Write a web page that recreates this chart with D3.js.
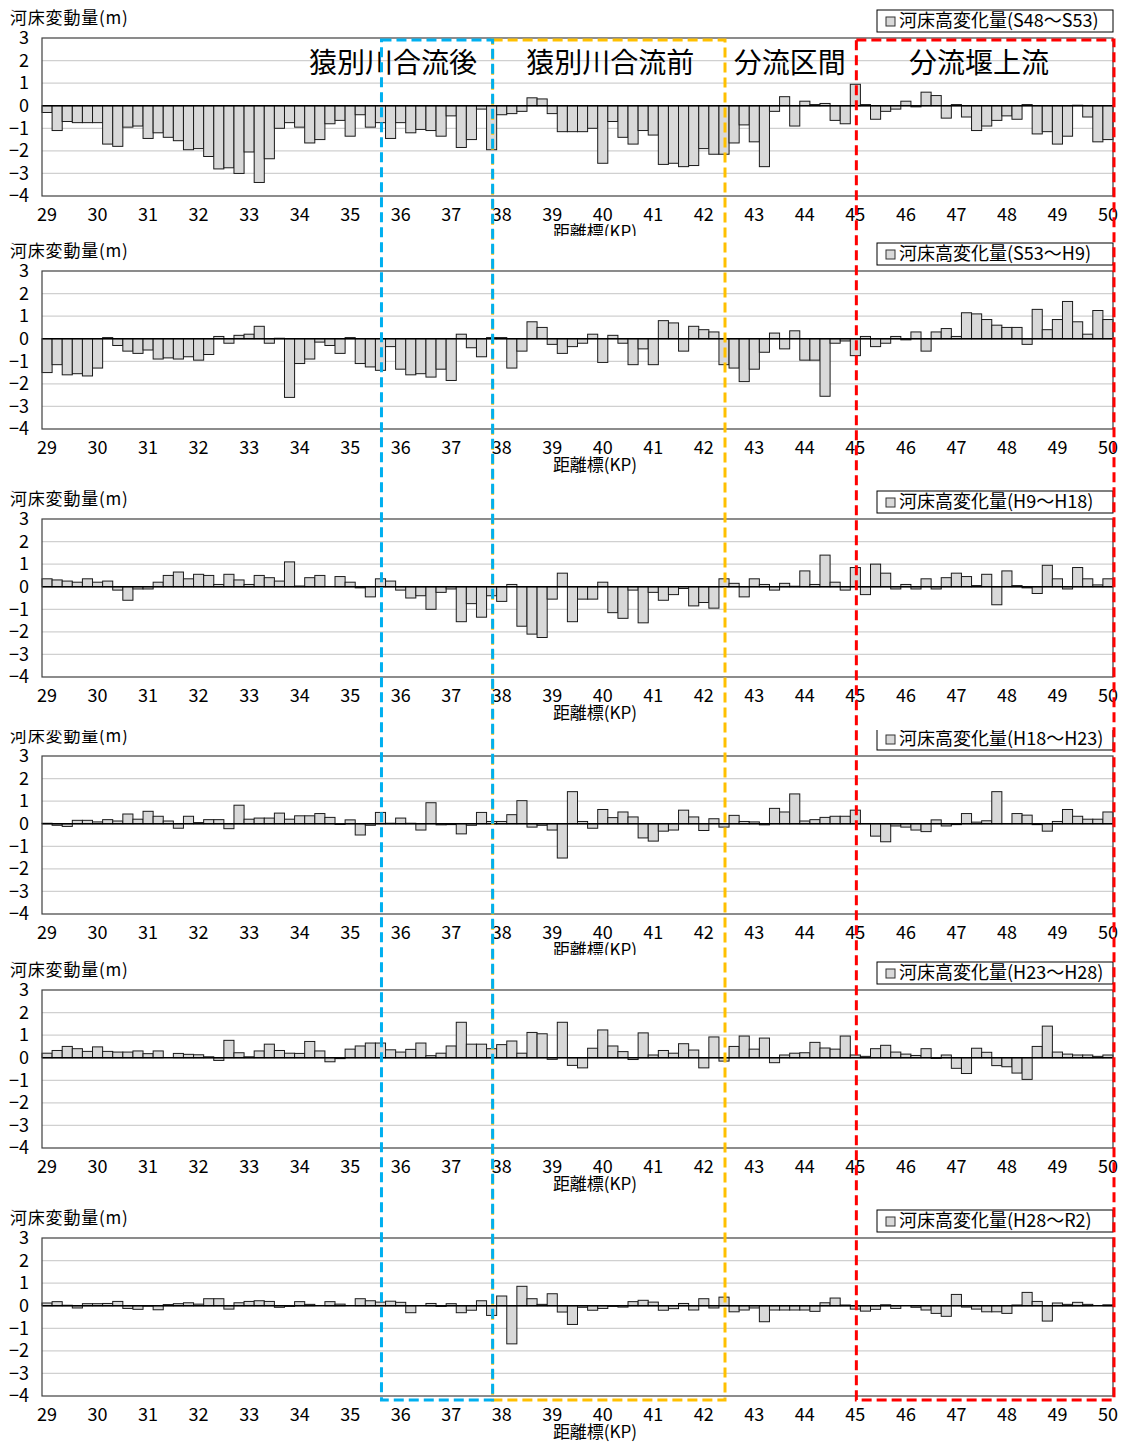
<!DOCTYPE html>
<html>
<head>
<meta charset="utf-8">
<script src="https://cdn.jsdelivr.net/npm/d3@7"></script>
<style>
body { margin: 0; background: #fff; }
text { font-family: "Noto Sans CJK JP", sans-serif; fill: #000; }
.tick text { font-family: "Liberation Sans Narrow", "Noto Sans CJK JP", sans-serif; font-size: 18px; }
</style>
</head>
<body>
<script>
// KP categories, 0.2 km pitch from 29.0 to 50.0
var kp = d3.range(0, 106).map(function(i) { return +(29 + i * 0.2).toFixed(1); });
var kpTicks = [29,30,31,32,33,34,35,36,37,38,39,40,41,42,43,44,45,46,47,48,49,50];
var tickLabels = ["29","30","31","32","33","34","35","36","37","38","39","40","41","42","43","44","45","46","47","48","49","50"];
var yTicks = [3,2,1,0,-1,-2,-3,-4];

var periods = ["S48～S53", "S53～H9", "H9～H18", "H18～H23", "H23～H28", "H28～R2"];

var s48_s53 = [-0.3,-1.1,-0.7,-0.75,-0.75,-0.75,-1.7,-1.8,-0.95,-0.9,
 -1.45,-1.2,-1.4,-1.55,-1.95,-1.9,-2.25,-2.8,-2.75,-3.0,
 -2.05,-3.4,-2.35,-1.0,-0.75,-0.95,-1.65,-1.5,-0.8,-0.65,
 -1.35,-0.4,-0.95,-0.75,-1.45,-0.75,-1.2,-1.05,-1.1,-1.35,
 -0.45,-1.85,-1.5,-0.15,-1.95,-0.4,-0.35,-0.25,0.35,0.3,
 -0.35,-1.15,-1.15,-1.15,-1.0,-2.55,-0.7,-1.4,-1.7,-1.1,
 -1.3,-2.6,-2.55,-2.7,-2.65,-1.9,-2.15,-2.15,-1.65,-0.85,
 -1.6,-2.7,-0.25,0.4,-0.9,0.2,0.05,0.1,-0.65,-0.8,
 0.95,0.05,-0.6,-0.25,-0.15,0.2,-0.05,0.6,0.45,-0.55,
 0.05,-0.5,-1.1,-0.9,-0.65,-0.45,-0.6,0.05,-1.25,-1.15,
 -1.7,-1.35,0.02,-0.5,-1.6,-1.5];

var s53_h9 = [-1.5,-1.15,-1.6,-1.55,-1.65,-1.3,0.05,-0.3,-0.55,-0.65,
 -0.5,-0.9,-0.85,-0.9,-0.8,-0.95,-0.7,0.1,-0.2,0.15,
 0.2,0.55,-0.2,0.02,-2.6,-1.1,-0.9,-0.15,-0.3,-0.65,
 0.05,-1.1,-1.25,-1.4,-0.35,-1.35,-1.6,-1.55,-1.7,-1.35,
 -1.85,0.2,-0.4,-0.8,0.05,0.05,-1.3,-0.55,0.75,0.5,
 -0.25,-0.65,-0.35,-0.2,0.2,-1.05,0.15,-0.2,-1.15,-0.45,
 -1.15,0.8,0.7,-0.55,0.55,0.4,0.3,-1.15,-1.3,-1.9,
 -1.35,-0.6,0.25,-0.45,0.35,-0.95,-0.95,-2.55,-0.2,-0.1,
 -0.75,0.1,-0.35,-0.2,0.1,-0.05,0.3,-0.55,0.3,0.45,
 0.1,1.15,1.1,0.85,0.6,0.5,0.5,-0.25,1.3,0.4,
 0.85,1.65,0.75,0.2,1.25,0.85];

var h9_h18 = [0.35,0.3,0.25,0.2,0.35,0.2,0.25,-0.15,-0.6,-0.1,
 -0.1,0.2,0.5,0.65,0.35,0.55,0.5,0.1,0.55,0.3,
 0.1,0.5,0.4,0.25,1.1,0.03,0.4,0.5,0.0,0.45,
 0.2,-0.05,-0.45,0.35,0.25,-0.15,-0.5,-0.4,-1.0,-0.25,
 -0.1,-1.55,-0.75,-1.35,-0.4,-0.65,0.1,-1.75,-2.1,-2.25,
 -0.55,0.6,-1.55,-0.55,-0.55,0.2,-1.15,-1.4,-0.15,-1.6,
 -0.25,-0.6,-0.35,-0.08,-0.85,-0.7,-0.95,0.35,0.15,-0.45,
 0.35,0.1,-0.15,0.15,0.02,0.7,0.1,1.4,0.2,-0.15,
 0.85,-0.35,1.0,0.6,-0.1,0.1,-0.1,0.35,-0.1,0.4,
 0.6,0.45,0.05,0.55,-0.8,0.7,0.05,-0.05,-0.3,0.95,
 0.35,-0.1,0.85,0.35,0.08,0.35];

var h18_h23 = [0.02,-0.07,-0.12,0.15,0.15,0.08,0.18,0.12,0.43,0.2,
 0.55,0.33,0.12,-0.2,0.33,0.05,0.18,0.18,-0.22,0.82,
 0.2,0.25,0.25,0.47,0.2,0.35,0.35,0.45,0.28,-0.03,
 0.17,-0.5,-0.07,0.5,0.02,0.25,0.02,-0.28,0.93,-0.05,
 -0.04,-0.45,-0.07,0.5,0.1,0.1,0.4,1.02,-0.15,-0.07,
 -0.28,-1.52,1.42,0.1,-0.2,0.63,0.27,0.52,0.3,-0.63,
 -0.77,-0.33,-0.28,0.6,0.3,-0.3,0.22,-0.15,0.37,0.1,
 0.08,-0.05,0.68,0.52,1.32,0.12,0.18,0.28,0.33,0.33,
 0.6,0.01,-0.55,-0.8,-0.1,-0.15,-0.28,-0.35,0.17,-0.1,
 -0.04,0.45,0.07,0.13,1.42,0.01,0.45,0.38,-0.04,-0.33,
 0.1,0.63,0.33,0.2,0.2,0.52];

var h23_h28 = [0.2,0.32,0.5,0.4,0.28,0.48,0.28,0.25,0.25,0.3,
 0.18,0.3,0.0,0.19,0.15,0.13,0.04,-0.12,0.77,0.22,
 0.04,0.3,0.6,0.32,0.2,0.19,0.72,0.3,-0.18,-0.04,
 0.38,0.52,0.65,0.65,0.35,0.25,0.37,0.65,0.09,0.2,
 0.52,1.57,0.6,0.6,0.4,0.58,0.74,0.2,1.12,1.06,
 -0.07,1.57,-0.34,-0.45,0.42,1.23,0.52,0.27,-0.08,1.1,
 0.12,0.32,0.2,0.62,0.34,-0.45,0.92,-0.15,0.5,0.96,
 0.38,0.87,-0.22,0.12,0.2,0.22,0.68,0.43,0.38,0.96,
 0.12,0.06,0.4,0.55,0.25,0.16,0.1,0.4,-0.03,0.12,
 -0.47,-0.7,0.42,0.24,-0.35,-0.4,-0.68,-0.96,0.5,1.4,
 0.25,0.16,0.12,0.12,0.06,0.12];

var h28_r2 = [0.12,0.18,0.02,-0.1,0.09,0.09,0.1,0.19,-0.12,-0.16,
 -0.02,-0.18,0.05,0.09,0.13,0.07,0.31,0.31,-0.15,0.13,
 0.19,0.22,0.19,-0.07,-0.03,0.18,0.06,0.0,0.18,0.07,
 0.0,0.31,0.22,0.16,0.2,0.15,-0.31,0.0,0.1,-0.03,
 0.09,-0.31,-0.2,0.22,-0.43,0.43,-1.69,0.86,0.31,0.06,
 0.53,-0.28,-0.83,-0.07,-0.2,-0.12,-0.03,-0.06,0.18,0.24,
 0.16,-0.2,-0.13,0.1,-0.19,0.31,-0.1,0.38,-0.27,-0.19,
 -0.1,-0.71,-0.19,-0.19,-0.19,-0.19,-0.25,0.13,0.34,0.03,
 -0.15,-0.24,-0.16,0.04,-0.12,0.0,-0.07,-0.19,-0.34,-0.47,
 0.5,-0.06,-0.15,-0.27,-0.27,-0.34,0.03,0.59,0.19,-0.68,
 0.12,0.06,0.15,0.06,0.0,0.04];

var seriesList = [s48_s53, s53_h9, h9_h18, h18_h23, h23_h28, h28_r2];

// section names and KP ranges of the dashed boxes
var zoneNames = ["猿別川合流後", "猿別川合流前", "分流区間", "分流堰上流"];
var zoneLabelKp = [35.85, 40.15, 43.7, 47.45];
var boxFrom = [37.8, 35.6, 45.0];
var boxTo = [42.4, 37.8, 50.1];
var boxColor = ["#FFC000", "#00B0F0", "#FF0000"];

var W = 1126, H = 1443;
var left = 42, right = 1113;
var panelTop = [38, 271, 519, 756, 990, 1238];
var plotH = 158;
var clipBottom = [236, 482, 730, 955, 1202, 1443];

var svg = d3.select("body").append("svg").attr("width", W).attr("height", H);

var x = d3.scaleBand().domain(kp).range([left, right]).padding(0);
var bw = x.bandwidth();
var kpX = d3.scaleLinear().domain([29, 50]).range([x(29) + bw / 2, x(50) + bw / 2]);
var y = d3.scaleLinear().domain([-4, 3]);

var defs = svg.append("defs");

seriesList.forEach(function(data, p) {
    var top = panelTop[p];
    y.range([top + plotH, top]);
    var clipTop = p == 0 ? 0 : clipBottom[p - 1];
    defs.append("clipPath").attr("id", "clip" + p)
        .append("rect").attr("x", 0).attr("y", clipTop).attr("width", W).attr("height", clipBottom[p] - clipTop);

    var g = svg.append("g").attr("clip-path", "url(#clip" + p + ")");

    // grid
    g.append("g").selectAll("line").data(yTicks.filter(function(d) { return d != 0 && d != 3 && d != -4; }))
        .enter().append("line")
        .attr("x1", left).attr("x2", right)
        .attr("y1", function(d) { return y(d); }).attr("y2", function(d) { return y(d); })
        .attr("stroke", "#d0d0d0").attr("stroke-width", 1.2);

    // bars
    g.append("g").selectAll("rect").data(data).enter().append("rect")
        .attr("x", function(d, i) { return x(kp[i]); })
        .attr("width", bw)
        .attr("y", function(d) { return y(Math.max(0, d)); })
        .attr("height", function(d) { return Math.abs(y(d) - y(0)); })
        .attr("fill", "#d9d9d9").attr("stroke", "#1a1a1a").attr("stroke-width", 1);

    // zero line
    g.append("line").attr("x1", left).attr("x2", right).attr("y1", y(0)).attr("y2", y(0))
        .attr("stroke", "#000").attr("stroke-width", 1.6);

    // frame
    g.append("rect").attr("x", left).attr("y", top).attr("width", right - left).attr("height", plotH)
        .attr("fill", "none").attr("stroke", "#404040").attr("stroke-width", 1.2);

    // y axis
    var ya = g.append("g").attr("transform", "translate(" + (left - 1) + ",0)")
        .call(d3.axisLeft(y).tickValues(yTicks).tickSize(0).tickPadding(12).tickFormat(d3.format("d")));
    ya.select(".domain").remove();

    // x axis
    var xa = g.append("g").attr("transform", "translate(0," + (top + plotH) + ")")
        .call(d3.axisBottom(x).tickValues(kpTicks).tickSize(0).tickPadding(12)
            .tickFormat(function(d) { return tickLabels[kpTicks.indexOf(d)]; }));
    xa.select(".domain").remove();

    g.append("text").attr("x", 595).attr("y", top + plotH + 42)
        .attr("text-anchor", "middle").style("font-size", "17px").text("距離標(KP)");

    // y title
    g.append("text").attr("x", 10).attr("y", top - 14)
        .style("font-size", "17px").style("letter-spacing", "0.8px").text("河床変動量(m)");

    // legend
    var lg = g.append("g").attr("transform", "translate(877," + (top - 28) + ")");
    lg.append("rect").attr("width", right - 877).attr("height", 22)
        .attr("fill", "#fff").attr("stroke", "#000").attr("stroke-width", 1);
    lg.append("rect").attr("x", 9).attr("y", 7).attr("width", 9).attr("height", 9)
        .attr("fill", "#d9d9d9").attr("stroke", "#333").attr("stroke-width", 1);
    lg.append("text").attr("x", 22).attr("y", 17).style("font-size", "18px")
        .text("河床高変化量(" + periods[p] + ")");
});

// section labels
svg.append("g").selectAll("text").data(zoneNames).enter().append("text")
    .attr("x", function(d, i) { return kpX(zoneLabelKp[i]); })
    .attr("y", 73)
    .attr("text-anchor", "middle")
    .style("font-size", "28px").style("font-weight", 400)
    .text(function(d) { return d; });

// dashed section boxes
var boxTop = 40, boxBottom = 1400;
svg.append("g").selectAll("rect").data(boxColor).enter().append("rect")
    .attr("x", function(d, i) { return kpX(boxFrom[i]) + 1; })
    .attr("y", boxTop)
    .attr("width", function(d, i) { return kpX(boxTo[i]) - kpX(boxFrom[i]); })
    .attr("height", boxBottom - boxTop)
    .attr("fill", "none").attr("stroke", function(d) { return d; })
    .attr("stroke-width", 3).attr("stroke-dasharray", "10,5");
</script>
</body>
</html>
